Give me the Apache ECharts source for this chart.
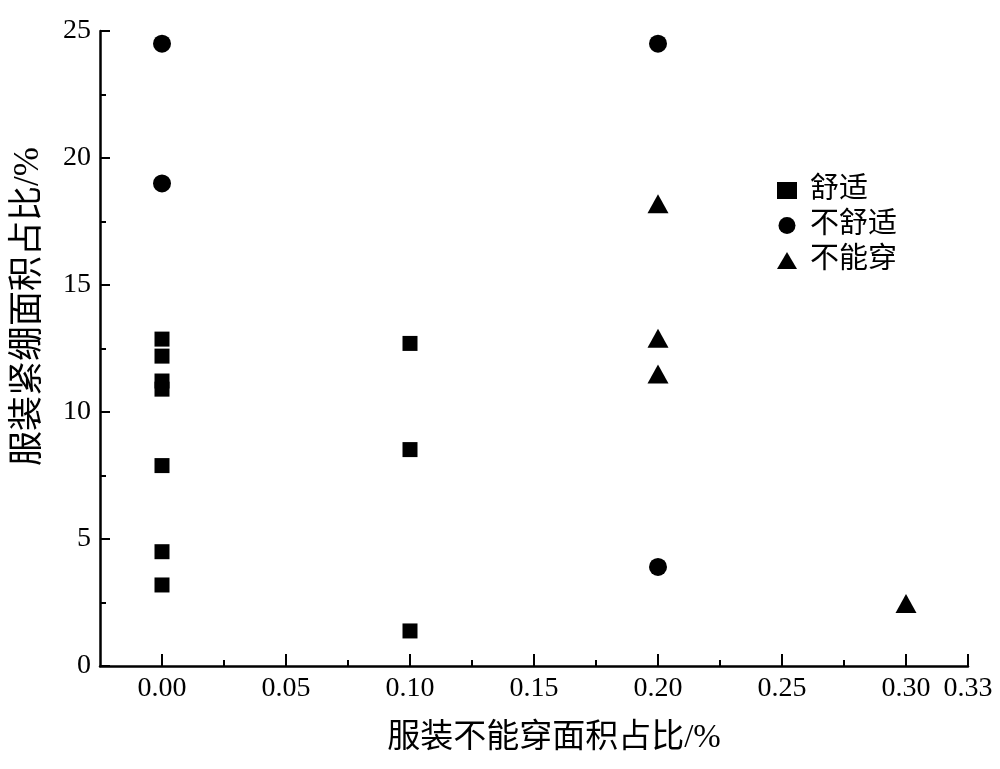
<!DOCTYPE html>
<html>
<head>
<meta charset="utf-8">
<script src="https://cdn.jsdelivr.net/npm/echarts@6/dist/echarts.min.js"></script>
<style>
    html, body { margin: 0; padding: 0; background: #fff; }
    #chart { width: 1000px; height: 769px; }
</style>
</head>
<body>
<div id="chart"></div>
<script>
// 数据
let seriesNames = ['舒适', '不舒适', '不能穿']
let comfortX = [0, 0, 0, 0, 0, 0, 0, 0.1, 0.1, 0.1]
let comfortY = [12.87, 12.2, 11.22, 10.9, 7.89, 4.5, 3.19, 12.7, 8.52, 1.38]
let uncomfortX = [0, 0, 0.2, 0.2]
let uncomfortY = [24.5, 19.0, 24.5, 3.9]
let cannotX = [0.2, 0.2, 0.2, 0.3]
let cannotY = [18.2, 12.9, 11.5, 2.46]

// 刻度
let xTickValues = [0, 0.05, 0.1, 0.15, 0.2, 0.25, 0.3, 0.325]
let xTickLabels = ['0.00', '0.05', '0.10', '0.15', '0.20', '0.25', '0.30', '0.33']
let xMinorValues = [0.025, 0.075, 0.125, 0.175, 0.225, 0.275]
let yTickLabels = ['0', '5', '10', '15', '20', '25']

let pairs = (xs, ys) => xs.map((x, i) => [x, ys[i]])

let font = '"Liberation Serif", "Noto Sans CJK SC", serif'
let markStyle = { color: '#000', opacity: 1 }

let myChart = echarts.init(document.getElementById('chart'))
let option = {
    backgroundColor: '#fff',
    animation: false,
    textStyle: { fontFamily: font, color: '#000' },
    grid: { left: 100, right: 32, top: 31, bottom: 103 },
    legend: {
        orient: 'vertical',
        left: 772,
        top: 171,
        itemWidth: 20,
        itemHeight: 17,
        itemGap: 6,
        data: seriesNames,
        itemStyle: { opacity: 1 },
        textStyle: { fontSize: 29, color: '#000', fontFamily: font, padding: [0, 0, 0, 8] }
    },
    xAxis: [
        {
            type: 'value',
            min: -0.025,
            max: 0.325,
            splitLine: { show: false },
            axisLine: { onZero: false, lineStyle: { color: '#000', width: 2.5 } },
            axisTick: { inside: true, length: 12, customValues: xTickValues, lineStyle: { color: '#000', width: 2 } },
            axisLabel: {
                customValues: xTickValues,
                fontSize: 28,
                color: '#000',
                fontFamily: font,
                margin: 9,
                formatter: function (value) {
                    let i = xTickValues.findIndex(v => Math.abs(v - value) < 1e-6)
                    return i >= 0 ? xTickLabels[i] : ''
                }
            },
            name: '服装不能穿面积占比/%',
            nameLocation: 'middle',
            nameGap: 56,
            nameTextStyle: { fontSize: 33, color: '#000', fontFamily: font, padding: [0, 0, 0, 40] }
        },
        {
            // 次刻度
            type: 'value',
            min: -0.025,
            max: 0.325,
            position: 'bottom',
            splitLine: { show: false },
            axisLine: { show: false, onZero: false },
            axisTick: { inside: true, length: 6, customValues: xMinorValues, lineStyle: { color: '#000', width: 2 } },
            axisLabel: { show: false }
        }
    ],
    yAxis: {
        type: 'value',
        min: 0,
        max: 25,
        interval: 5,
        splitLine: { show: false },
        axisLine: { onZero: false, lineStyle: { color: '#000', width: 2.5 } },
        axisTick: { inside: true, length: 10, lineStyle: { color: '#000', width: 2 } },
        minorTick: { show: true, splitNumber: 2, length: 6, lineStyle: { color: '#000', width: 2 } },
        axisLabel: {
            fontSize: 28,
            color: '#000',
            fontFamily: font,
            margin: 9,
            formatter: function (value) {
                return yTickLabels[Math.round(value / 5)]
            }
        },
        name: '服装紧绷面积占比/%',
        nameLocation: 'middle',
        nameGap: 54,
        nameTextStyle: { fontSize: 35, color: '#000', fontFamily: font, padding: [0, 0, 0, 84] }
    },
    series: [
        {
            name: seriesNames[0],
            type: 'scatter',
            symbol: 'rect',
            symbolSize: 15,
            itemStyle: markStyle,
            data: pairs(comfortX, comfortY)
        },
        {
            name: seriesNames[1],
            type: 'scatter',
            symbol: 'circle',
            symbolSize: 18,
            itemStyle: markStyle,
            data: pairs(uncomfortX, uncomfortY)
        },
        {
            name: seriesNames[2],
            type: 'scatter',
            symbol: 'triangle',
            symbolSize: [21, 19],
            itemStyle: markStyle,
            data: pairs(cannotX, cannotY)
        }
    ]
}
myChart.setOption(option)
window.addEventListener('resize', function () {
    myChart.resize()
})
</script>
</body>
</html>
